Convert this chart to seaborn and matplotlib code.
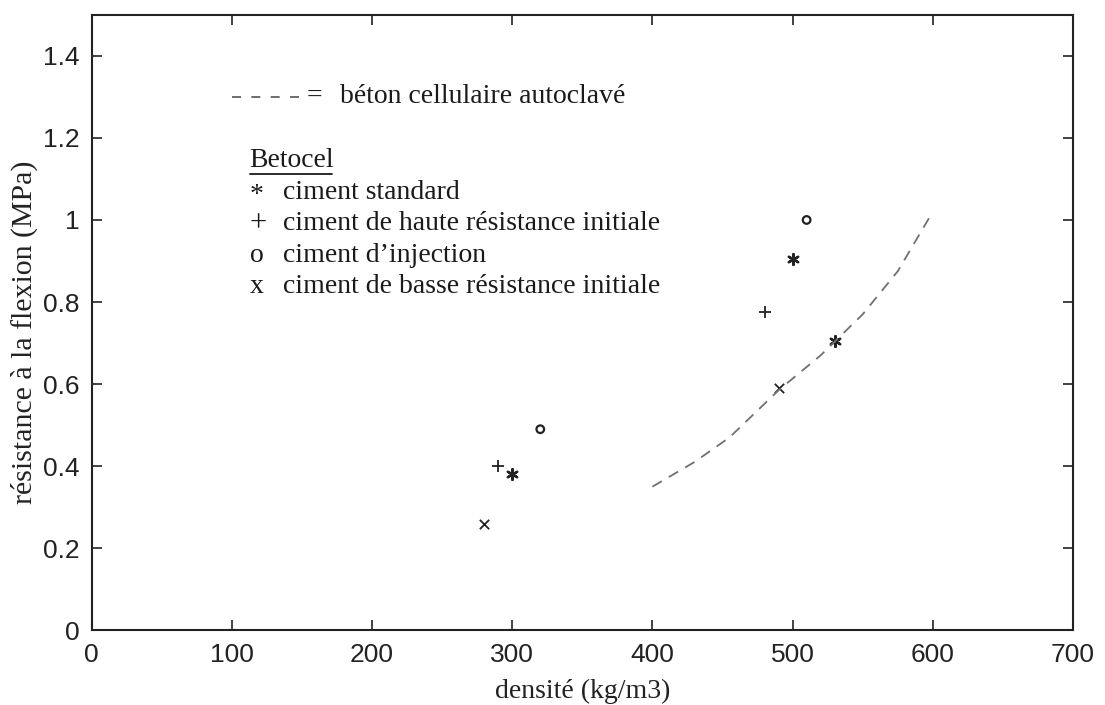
import matplotlib
matplotlib.use("Agg")
import matplotlib.pyplot as plt
import seaborn as sns

# Data
std_x = [300, 500, 530]
std_y = [0.38, 0.905, 0.705]
haute_x = [290, 480]
haute_y = [0.40, 0.775]
inj_x = [320, 510]
inj_y = [0.49, 1.00]
basse_x = [280, 490]
basse_y = [0.26, 0.59]
curve_x = [400, 430, 455, 490, 520, 550, 575, 600]
curve_y = [0.35, 0.41, 0.47, 0.585, 0.67, 0.77, 0.875, 1.02]

x_ticks = [0, 100, 200, 300, 400, 500, 600, 700]
y_ticks = [0, 0.2, 0.4, 0.6, 0.8, 1.0, 1.2, 1.4]
y_ticklabels = ["0", "0.2", "0.4", "0.6", "0.8", "1", "1.2", "1.4"]

legend_syms = ["*", "+", "o", "x"]
legend_txt = ["ciment standard", "ciment de haute résistance initiale",
              "ciment d’injection", "ciment de basse résistance initiale"]

sns.set_theme(style="white")
plt.rcParams['font.family'] = ['Liberation Serif', 'DejaVu Serif']

fig = plt.figure(figsize=(11.05, 7.05), dpi=100)
ax = fig.add_axes([0.083, 0.106, 0.888, 0.873])

sns.lineplot(x=curve_x, y=curve_y, ax=ax, color="#707070", lw=1.3,
             linestyle=(0, (6, 4.5)), legend=False)

sns.scatterplot(x=std_x, y=std_y, ax=ax, marker=(6, 2, 0), s=60, color="#222222",
                linewidth=1.7, legend=False)
sns.scatterplot(x=haute_x, y=haute_y, ax=ax, marker="+", s=80, color="#222222",
                linewidth=1.3, legend=False)
ax.scatter(inj_x, inj_y, marker="o", s=30, facecolors="none", edgecolors="#222222",
           linewidths=1.6)
sns.scatterplot(x=basse_x, y=basse_y, ax=ax, marker="x", s=45, color="#222222",
                linewidth=1.3, legend=False)

ax.set_xlim(0, 700)
ax.set_ylim(0, 1.5)
ax.set_xticks(x_ticks)
ax.set_xticklabels([str(v) for v in x_ticks])
ax.set_yticks(y_ticks)
ax.set_yticklabels(y_ticklabels)

for sp in ax.spines.values():
    sp.set_color("#222222")
    sp.set_linewidth(1.5)

ax.tick_params(axis="both", which="both", direction="in", length=7, width=1.2,
               color="#222222", top=True, right=True, bottom=True, left=True,
               labelsize=19, labelcolor="#222222")
ax.tick_params(axis="y", pad=9)
ax.tick_params(axis="x", pad=9)
for lab in ax.get_xticklabels() + ax.get_yticklabels():
    lab.set_family(['Liberation Sans', 'DejaVu Sans'])

ax.set_xlabel("densité (kg/m3)", fontsize=20, color="#222222", labelpad=9)
ax.set_ylabel("résistance à la flexion (MPa)", fontsize=21.5, color="#222222")
ax.yaxis.set_label_coords(-0.055, 0.485)

tc = "#1a1a1a"
fs = 20
# dashed legend sample
ax.plot([0.1427, 0.2110], [0.867, 0.867], transform=ax.transAxes, color="#555555",
        lw=1.2, linestyle=(0, (5.4, 6.2)))
ax.text(0.2190, 0.867, "=", transform=ax.transAxes, fontsize=fs, color=tc,
        va="center", ha="left")
ax.text(0.2528, 0.867, "béton cellulaire autoclavé", transform=ax.transAxes, fontsize=fs,
        color=tc, va="center", ha="left")
ax.text(0.161, 0.763, "Betocel", transform=ax.transAxes, fontsize=fs, color=tc,
        va="center", ha="left")
ax.plot([0.161, 0.2446], [0.741, 0.741], transform=ax.transAxes, color=tc, lw=1.3)
y0 = 0.712
dy = 0.0513
for i, (s, t) in enumerate(zip(legend_syms, legend_txt)):
    yy = y0 - i * dy
    ax.text(0.161, yy - (0.006 if s == "*" else 0), s, transform=ax.transAxes,
            fontsize=fs + (2 if s == "+" else 0), color=tc, va="center", ha="left")
    ax.text(0.1947, yy, t, transform=ax.transAxes, fontsize=fs, color=tc,
            va="center", ha="left")

fig.savefig("out.png", dpi=100, facecolor="white")
